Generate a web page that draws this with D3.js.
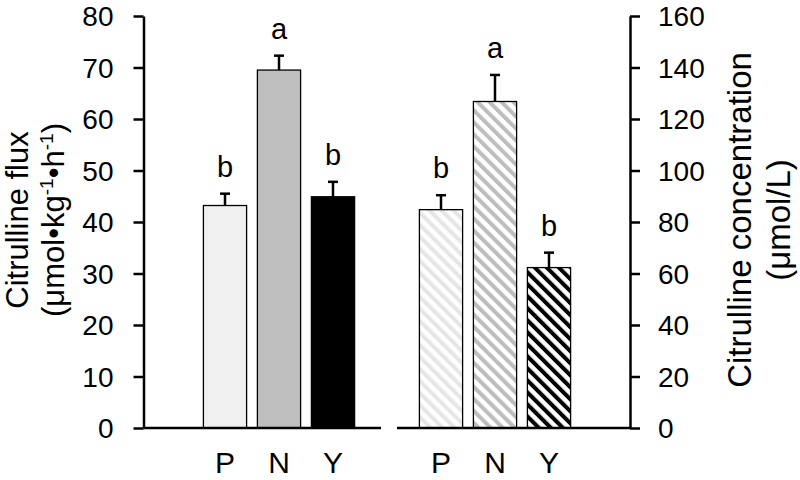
<html>
<head>
<script src="https://cdn.jsdelivr.net/npm/d3@7"></script>
<style>
  body { margin: 0; background: #fff; }
  text { font-family: "Liberation Sans", Arial, sans-serif; fill: #000; }
</style>
</head>
<body>
<svg width="800" height="480"></svg>
<script>
var groups = ["P", "N", "Y"];
var fluxMean = [43.2, 69.5, 44.9];
var fluxErr = [2.3, 2.8, 2.9];
var fluxLetters = ["b", "a", "b"];
var concMean = [84.8, 126.8, 62.3];
var concErr = [5.6, 10.3, 5.8];
var concLetters = ["b", "a", "b"];
var fluxTicks = [0, 10, 20, 30, 40, 50, 60, 70, 80];
var concTicks = [0, 20, 40, 60, 80, 100, 120, 140, 160];

var svg = d3.select("svg");
var top_ = 16, bottom = 428;

var yL = d3.scaleLinear().domain([0, 80]).range([bottom, top_]);
var yR = d3.scaleLinear().domain([0, 160]).range([bottom, top_]);
var xL = d3.scaleBand().domain(groups).range([198, 360]).paddingInner(0.2).paddingOuter(0.1);
var xR = d3.scaleBand().domain(groups).range([414, 576]).paddingInner(0.2).paddingOuter(0.1);

// hatch patterns for the right panel
var stripeCol = ["#e6e6e6", "#bdbdbd", "#000000"];
var defs = svg.append("defs");
stripeCol.forEach(function(c, i) {
  var p = defs.append("pattern")
    .attr("id", "hatch" + i)
    .attr("patternUnits", "userSpaceOnUse")
    .attr("width", 8.5).attr("height", 8.5)
    .attr("patternTransform", "rotate(-45)");
  p.append("rect").attr("width", 8.5).attr("height", 8.5).attr("fill", "#fff");
  p.append("rect").attr("width", 4).attr("height", 8.5).attr("fill", c);
});

var solidCol = ["#f0f0f0", "#bfbfbf", "#000000"];

function panel(x, y, mean, err, letters, fills) {
  var g = svg.append("g");
  g.selectAll(".bar")
    .data(mean)
    .enter()
    .append("rect")
    .attr("x", function(d, i) { return x(groups[i]); })
    .attr("y", function(d) { return y(d); })
    .attr("width", x.bandwidth())
    .attr("height", function(d) { return bottom - y(d); })
    .attr("fill", function(d, i) { return fills[i]; })
    .attr("stroke", "#000")
    .attr("stroke-width", 1.3);

  // error bars + letters + category names
  mean.forEach(function(d, i) {
    var cx = x(groups[i]) + x.bandwidth() / 2;
    g.append("line")
      .attr("x1", cx).attr("x2", cx)
      .attr("y1", y(d)).attr("y2", y(d + err[i]))
      .attr("stroke", "#000").attr("stroke-width", 2.5);
    g.append("line")
      .attr("x1", cx - 5).attr("x2", cx + 5)
      .attr("y1", y(d + err[i])).attr("y2", y(d + err[i]))
      .attr("stroke", "#000").attr("stroke-width", 2.5);
    g.append("text")
      .attr("x", cx)
      .attr("y", y(d + err[i]) - 17)
      .attr("text-anchor", "middle")
      .attr("font-size", 29)
      .text(letters[i]);
    g.append("text")
      .attr("x", cx)
      .attr("y", 473)
      .attr("text-anchor", "middle")
      .attr("font-size", 30)
      .text(groups[i]);
  });
}

panel(xL, yL, fluxMean, fluxErr, fluxLetters, solidCol);
panel(xR, yR, concMean, concErr, concLetters, ["url(#hatch0)", "url(#hatch1)", "url(#hatch2)"]);

// baselines
svg.append("line").attr("x1", 143.5).attr("x2", 381).attr("y1", bottom).attr("y2", bottom)
  .attr("stroke", "#000").attr("stroke-width", 2.5);
svg.append("line").attr("x1", 397).attr("x2", 631).attr("y1", bottom).attr("y2", bottom)
  .attr("stroke", "#000").attr("stroke-width", 2.5);

// axes
var axL = svg.append("g")
  .attr("transform", "translate(143.5,0)")
  .call(d3.axisLeft(yL).tickValues(fluxTicks).tickSize(10).tickSizeOuter(0).tickPadding(20));
var axR = svg.append("g")
  .attr("transform", "translate(630,0)")
  .call(d3.axisRight(yR).tickValues(concTicks).tickSize(10).tickSizeOuter(0).tickPadding(18));
[axL, axR].forEach(function(a) {
  a.selectAll("path").attr("stroke-width", 2.5);
  a.selectAll("line").attr("stroke-width", 2.5);
  a.selectAll("text").attr("font-size", 28).attr("dy", "0.35em")
    .attr("font-family", "Liberation Sans, Arial, sans-serif").attr("fill", "#000");
});

// axis titles
svg.append("text").attr("transform", "translate(28,220) rotate(-90)")
  .attr("text-anchor", "middle").attr("font-size", 31).text("Citrulline flux");
var tl2 = svg.append("text").attr("transform", "translate(64,220) rotate(-90)")
  .attr("text-anchor", "middle").attr("font-size", 31);
tl2.append("tspan").text("(μmol•kg");
tl2.append("tspan").attr("dy", -11).attr("font-size", 19).text("-1");
tl2.append("tspan").attr("dy", 11).text("•h");
tl2.append("tspan").attr("dy", -11).attr("font-size", 19).text("-1");
tl2.append("tspan").attr("dy", 11).text(")");

svg.append("text").attr("transform", "translate(751,220) rotate(-90)")
  .attr("text-anchor", "middle").attr("font-size", 33).text("Citrulline concentration");
svg.append("text").attr("transform", "translate(790,220) rotate(-90)")
  .attr("text-anchor", "middle").attr("font-size", 33).text("(μmol/L)");
</script>
</body>
</html>
